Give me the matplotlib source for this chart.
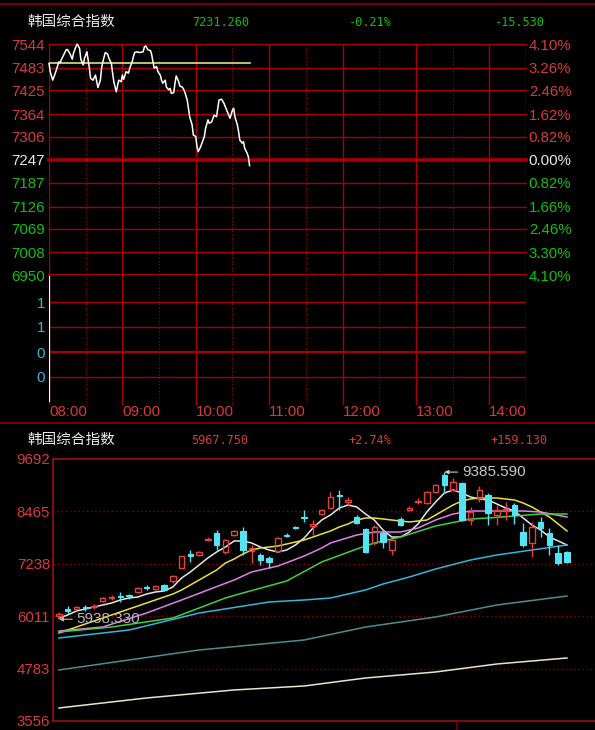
import matplotlib
matplotlib.use("Agg")
import matplotlib.pyplot as plt
from matplotlib.lines import Line2D
from matplotlib.patches import Rectangle

# ---------------- intraday (minutes after 08:00) ----------------
minute_times = [0, 1, 3, 4, 6, 8, 9, 10, 12, 14,
                15, 17, 19, 20, 22, 23, 25, 26, 28, 29,
                31, 32, 33, 34, 36, 38, 40, 42, 43, 44,
                46, 48, 49, 51, 52, 53, 55, 56, 57, 59,
                60, 61, 63, 65, 66, 68, 69, 70, 72, 74,
                77, 78, 79, 81, 83, 84, 85, 86, 88, 89,
                91, 92, 93, 95, 96, 98, 99, 100, 102, 103,
                104, 106, 107, 109, 110, 111, 113, 114, 115, 117,
                118, 120, 121, 122, 124, 125, 127, 128, 130, 131,
                133, 135, 137, 138, 139, 141, 143, 145, 147, 148,
                150, 151, 152, 154, 155, 156, 158, 159, 160, 162,
                163, 164]
minute_prices = [7494, 7473, 7451, 7459, 7477, 7498, 7496, 7503, 7516, 7529,
                 7530, 7520, 7505, 7520, 7537, 7544, 7533, 7505, 7490, 7507,
                 7524, 7503, 7482, 7456, 7451, 7464, 7432, 7451, 7482, 7498,
                 7522, 7518, 7507, 7494, 7469, 7447, 7421, 7436, 7451, 7447,
                 7464, 7453, 7473, 7469, 7482, 7498, 7511, 7522, 7524, 7522,
                 7524, 7537, 7539, 7529, 7527, 7516, 7498, 7482, 7486, 7473,
                 7464, 7451, 7443, 7451, 7433, 7426, 7430, 7417, 7419, 7443,
                 7462, 7447, 7436, 7433, 7428, 7421, 7400, 7379, 7357, 7336,
                 7310, 7306, 7280, 7267, 7280, 7289, 7306, 7327, 7349, 7340,
                 7344, 7361, 7357, 7379, 7400, 7402, 7392, 7376, 7361, 7353,
                 7374, 7379, 7357, 7336, 7319, 7297, 7289, 7293, 7276, 7263,
                 7254, 7231.26]
avg_times = [0, 164]
avg_prices = [7496, 7496]
vol_times = [0]
vol_values = [1.26]

prev_close = 7247
price_levels = [7544, 7483, 7425, 7364, 7306, 7247, 7187, 7126, 7069, 7008, 6950]
pct_labels = ["4.10%", "3.26%", "2.46%", "1.62%", "0.82%", "0.00%",
              "0.82%", "1.66%", "2.46%", "3.30%", "4.10%"]
vol_ticks = [0.25, 0.5, 0.75, 1.0]
hour_minutes = [0, 60, 120, 180, 240, 300, 360]
hour_labels = ["08:00", "09:00", "10:00", "11:00", "12:00", "13:00", "14:00"]

# ---------------- daily candles ----------------
opens = [6020, 6180, 6180, 6220, 6220, 6360, 6430, 6480, 6500, 6580,
         6700, 6650, 6750, 6830, 7140, 7460, 7440, 7800, 7960, 7520,
         7910, 8010, 7540, 7450, 7370, 7540, 7910, 8100, 8330, 8130,
         8400, 8550, 8860, 8690, 8330, 8060, 7720, 7960, 7560, 8290,
         8500, 8690, 8660, 8920, 9320, 8970, 9130, 8270, 8780, 8850,
         8380, 8480, 8620, 7990, 7720, 8220, 7960, 7500, 7520]
highs = [6100, 6250, 6250, 6280, 6300, 6470, 6510, 6580, 6530, 6700,
         6740, 6740, 6760, 6980, 7430, 7560, 7540, 7870, 8030, 7820,
         8020, 8100, 7680, 7490, 7420, 7860, 7960, 8130, 8500, 8260,
         8510, 8920, 8970, 8810, 8380, 8080, 8150, 8030, 7820, 8340,
         8600, 8780, 8950, 9110, 9385.59, 9250, 9160, 8570, 9060, 8900,
         8620, 8680, 8660, 8190, 8220, 8330, 8080, 7680, 7540]
lows = [5938.33, 6060, 6150, 6130, 6180, 6340, 6390, 6340, 6420, 6560,
        6620, 6630, 6600, 6790, 7130, 7280, 7420, 7770, 7560, 7470,
        7890, 7450, 7260, 7210, 7140, 7510, 7860, 8050, 8220, 7910,
        8380, 8540, 8500, 8600, 8160, 7490, 7680, 7610, 7440, 8120,
        8470, 8640, 8640, 8900, 8900, 8950, 8250, 8150, 8690, 8150,
        8150, 8260, 8170, 7630, 7400, 7870, 7440, 7210, 7260]
closes = [6060, 6140, 6220, 6200, 6250, 6440, 6460, 6450, 6480, 6670,
          6680, 6720, 6620, 6960, 7420, 7430, 7520, 7830, 7680, 7800,
          8000, 7570, 7610, 7330, 7280, 7840, 7890, 8080, 8310, 8170,
          8490, 8800, 8830, 8730, 8190, 7510, 8100, 7750, 7800, 8150,
          8540, 8720, 8920, 9080, 9080, 9160, 8270, 8450, 8960, 8430,
          8500, 8520, 8380, 7680, 8100, 8080, 7680, 7260, 7280]

ma5 = [5968, 6039, 6132, 6179, 6226, 6273, 6319, 6390, 6437, 6460,
       6530, 6577, 6601, 6694, 6905, 7046, 7210, 7374, 7514, 7631,
       7772, 7772, 7725, 7631, 7561, 7514, 7561, 7678, 7842, 8076,
       8263, 8380, 8544, 8615, 8568, 8404, 8263, 8029, 7865, 7865,
       7982, 8170, 8451, 8685, 8896, 8966, 8896, 8802, 8755, 8732,
       8638, 8544, 8474, 8310, 8146, 8029, 7865, 7772, 7678]
ma10 = [5617, 5687, 5757, 5828, 5898, 5968, 6039, 6109, 6179, 6249,
        6319, 6390, 6460, 6530, 6624, 6741, 6858, 6975, 7092, 7256,
        7350, 7467, 7561, 7608, 7631, 7655, 7701, 7748, 7795, 7865,
        7936, 8006, 8099, 8170, 8263, 8310, 8310, 8287, 8263, 8240,
        8217, 8240, 8263, 8380, 8498, 8615, 8708, 8755, 8779, 8779,
        8779, 8755, 8732, 8661, 8568, 8451, 8334, 8170, 8006]
ma20_idx = [0, 5, 10, 14, 17, 20, 22, 25, 28, 30, 31, 34, 36, 39, 41, 43, 44, 45, 47, 50, 53, 55, 58]
ma20 = [5664, 5757, 6085, 6390, 6624, 6858, 7046, 7186, 7420, 7608, 7725, 7912,
        7982, 7982, 8076, 8263, 8334, 8404, 8474, 8474, 8474, 8451, 8334]
ma30_idx = [0, 6, 13, 16, 19, 21, 26, 30, 34, 36, 39, 43, 47, 49, 52, 55, 58]
ma30 = [5640, 5757, 5968, 6202, 6437, 6554, 6835, 7280, 7584, 7725, 7865, 8123,
        8287, 8310, 8357, 8404, 8404]
ma60_idx = [0, 8, 16, 24, 28, 31, 35, 37, 40, 43, 47, 50, 54, 58]
ma60 = [5500, 5687, 6085, 6343, 6390, 6437, 6624, 6765, 6928, 7116, 7327, 7444, 7561, 7678]
ma120_idx = [0, 8, 16, 28, 35, 43, 50, 58]
ma120 = [4751, 4985, 5219, 5453, 5757, 5992, 6273, 6483]
ma250_idx = [0, 10, 20, 28, 35, 43, 50, 58]
ma250 = [3861, 4095, 4283, 4376, 4563, 4704, 4891, 5032]
day_levels = [9692, 8465, 7238, 6011, 4783, 3556]

# ---------------- style ----------------
W, H = 595, 730
GRID = "#A80000"
DARK = "#7A0000"
RED_TXT = "#D83A3A"
GREEN_TXT = "#10C010"
WHITE = "#E8E8E8"
CYAN_TXT = "#3CB4DC"
UP = "#E84040"
DOWN = "#54E4F4"
AXFONT = "Liberation Sans"
CJK = ["Noto Sans CJK SC", "DejaVu Sans"]
MONO = "DejaVu Sans Mono"

fig = plt.figure(figsize=(W / 100, H / 100), dpi=100, facecolor="black")


def box(x0, y0, x1, y1):
    return [x0 / W, 1 - y1 / H, (x1 - x0) / W, (y1 - y0) / H]


def fig_line(x0, y0, x1, y1, **kw):
    fig.add_artist(Line2D([x0 / W, x1 / W], [1 - y0 / H, 1 - y1 / H],
                          transform=fig.transFigure, **kw))


def label(x, y, s, **kw):
    fig.text(x / W, 1 - y / H, s, va="center", **kw)


# frame lines
fig_line(0, 4, W, 4, color=DARK, lw=1.5)
fig_line(0, 423, W, 423, color=DARK, lw=1.5)
fig_line(457, 722, 457, 730, color=DARK, lw=1.2)

# headers
label(27, 22, "韩国综合指数", color=WHITE, fontsize=10.5, family=CJK)
label(221, 22, "7231.260", color=GREEN_TXT, fontsize=8.6, family=MONO, ha="center")
label(370, 22, "-0.21%", color=GREEN_TXT, fontsize=8.6, family=MONO, ha="center")
label(520, 22, "-15.530", color=GREEN_TXT, fontsize=8.6, family=MONO, ha="center")

label(27, 440, "韩国综合指数", color=WHITE, fontsize=10.5, family=CJK)
label(220, 440, "5967.750", color=RED_TXT, fontsize=8.6, family=MONO, ha="center")
label(370, 440, "+2.74%", color=RED_TXT, fontsize=8.6, family=MONO, ha="center")
label(519, 440, "+159.130", color=RED_TXT, fontsize=8.6, family=MONO, ha="center")

# ---------------- intraday price panel ----------------
ax = fig.add_axes(box(49, 44, 526, 275))
ax.set_facecolor("black")
ax.set_xlim(0, 390)
ax.set_ylim(6950, 7544)
for s in ax.spines.values():
    s.set_visible(False)
for p in price_levels:
    lw = 2.6 if p == prev_close else (1.6 if p == price_levels[-1] else 1.0)
    ax.axhline(p, color=GRID, lw=lw, clip_on=False, zorder=1)
for m in range(0, 391, 60):
    ax.axvline(m, color=GRID, lw=1.0, zorder=1)
ax.axvline(390, color=GRID, lw=1.0, zorder=1)
for m in range(30, 390, 60):
    ax.axvline(m, color=GRID, lw=0.8, ls=(0, (1, 2)), zorder=1)
ax.plot(avg_times, avg_prices, color="#E0E08A", lw=1.2, zorder=2)
ax.plot(minute_times, minute_prices, color="white", lw=1.1, zorder=3, clip_on=False)

ax.set_xticks([])
ax.set_yticks(price_levels)
ax.set_yticklabels([str(p) for p in price_levels], fontsize=10.8, family=AXFONT)
ax.tick_params(axis="y", length=0, pad=3)
for t, p in zip(ax.get_yticklabels(), price_levels):
    t.set_color(WHITE if p == prev_close else (RED_TXT if p > prev_close else GREEN_TXT))

ax2 = ax.twinx()
ax2.set_ylim(ax.get_ylim())
for s in ax2.spines.values():
    s.set_visible(False)
ax2.set_yticks(price_levels)
ax2.set_yticklabels(pct_labels, fontsize=10.8, family=AXFONT)
ax2.tick_params(axis="y", length=0, pad=2)
for t, p in zip(ax2.get_yticklabels(), price_levels):
    t.set_color(WHITE if p == prev_close else (RED_TXT if p > prev_close else GREEN_TXT))

# ---------------- intraday volume panel ----------------
av = fig.add_axes(box(49, 275, 526, 405))
av.set_facecolor("black")
av.set_xlim(0, 390)
av.set_ylim(-0.03, 1.27)
for s in av.spines.values():
    s.set_visible(False)
for v in vol_ticks:
    av.axhline(v, color=GRID, lw=1.6 if v == 0.5 else 1.0, zorder=1)
for m in range(0, 391, 60):
    av.axvline(m, color=GRID, lw=1.0, zorder=1)
av.axvline(390, color=GRID, lw=1.0, zorder=1)
for m in range(30, 390, 60):
    av.axvline(m, color=GRID, lw=0.8, ls=(0, (1, 2)), zorder=1)
av.vlines(vol_times, 0, vol_values, color="white", lw=1.6, zorder=3)
av.set_yticks(vol_ticks)
av.set_yticklabels([f"{v:.0f}" for v in vol_ticks], fontsize=10.8, family=AXFONT, color=CYAN_TXT)
av.tick_params(axis="y", length=0, pad=3)
av.set_xticks(hour_minutes)
av.set_xticklabels(hour_labels, fontsize=10.8, family=AXFONT, color=RED_TXT)
av.tick_params(axis="x", length=0, pad=0)
for t in av.get_xticklabels():
    t.set_ha("left")

# ---------------- daily candlestick panel ----------------
ab = fig.add_axes(box(53, 459, 595, 721))
ab.set_facecolor("black")
ab.set_xlim(-0.68, 61.2)
ab.set_ylim(3556, 9692)
ab.spines["right"].set_visible(False)
for side in ["top", "bottom", "left"]:
    ab.spines[side].set_color("#9A1010")
    ab.spines[side].set_linewidth(1.2)
for p in day_levels[1:-1]:
    ab.axhline(p, color="#8A0000", lw=1.0, ls=(0, (1, 2)), zorder=1)
ab.set_xticks([])
ab.set_yticks(day_levels)
ab.set_yticklabels([str(p) for p in day_levels], fontsize=10.8, family=AXFONT, color=RED_TXT)
ab.tick_params(axis="y", length=0, pad=2)

ma_style = [
    (range(len(ma5)), ma5, "#E6E6E6"),
    (range(len(ma10)), ma10, "#E8E040"),
    (ma20_idx, ma20, "#E080E8"),
    (ma30_idx, ma30, "#40D040"),
    (ma60_idx, ma60, "#30B8D8"),
    (ma120_idx, ma120, "#4E8C94"),
    (ma250_idx, ma250, "#E6E6C8"),
]
for idx, vals, col in ma_style:
    ab.plot(list(idx), vals, color=col, lw=1.1, zorder=2)

bw = 0.62
for i, (o, h, l, c) in enumerate(zip(opens, highs, lows, closes)):
    if c >= o:
        ab.vlines(i, c, h, color=UP, lw=1.0, zorder=3)
        ab.vlines(i, l, o, color=UP, lw=1.0, zorder=3)
        ab.add_patch(Rectangle((i - bw / 2, o), bw, max(c - o, 8), fill=False,
                               edgecolor=UP, lw=1.0, zorder=4))
    else:
        ab.vlines(i, l, h, color=DOWN, lw=1.0, zorder=3)
        ab.add_patch(Rectangle((i - bw / 2, c), bw, max(o - c, 8), facecolor=DOWN,
                               edgecolor=DOWN, lw=0.8, zorder=4))

hi_i = highs.index(max(highs))
lo_i = lows.index(min(lows))
ab.annotate(f"{highs[hi_i]:.3f}", xy=(hi_i, highs[hi_i]), xytext=(hi_i + 2.0, highs[hi_i]),
            color="#C8C8C8", fontsize=11, family=AXFONT, va="center", ha="left",
            arrowprops=dict(arrowstyle="-|>", color="#C8C8C8", lw=0.8, mutation_scale=6,
                            shrinkA=1, shrinkB=0), zorder=6)
ab.annotate(f"{lows[lo_i]:.3f}", xy=(lo_i, lows[lo_i]), xytext=(lo_i + 2.0, lows[lo_i]),
            color="#B8B8B8", fontsize=11, family=AXFONT, va="center", ha="left",
            arrowprops=dict(arrowstyle="-|>", color="#B8B8B8", lw=0.8, mutation_scale=6,
                            shrinkA=1, shrinkB=0), zorder=6)

fig.savefig("out.png", dpi=100, facecolor="black")
